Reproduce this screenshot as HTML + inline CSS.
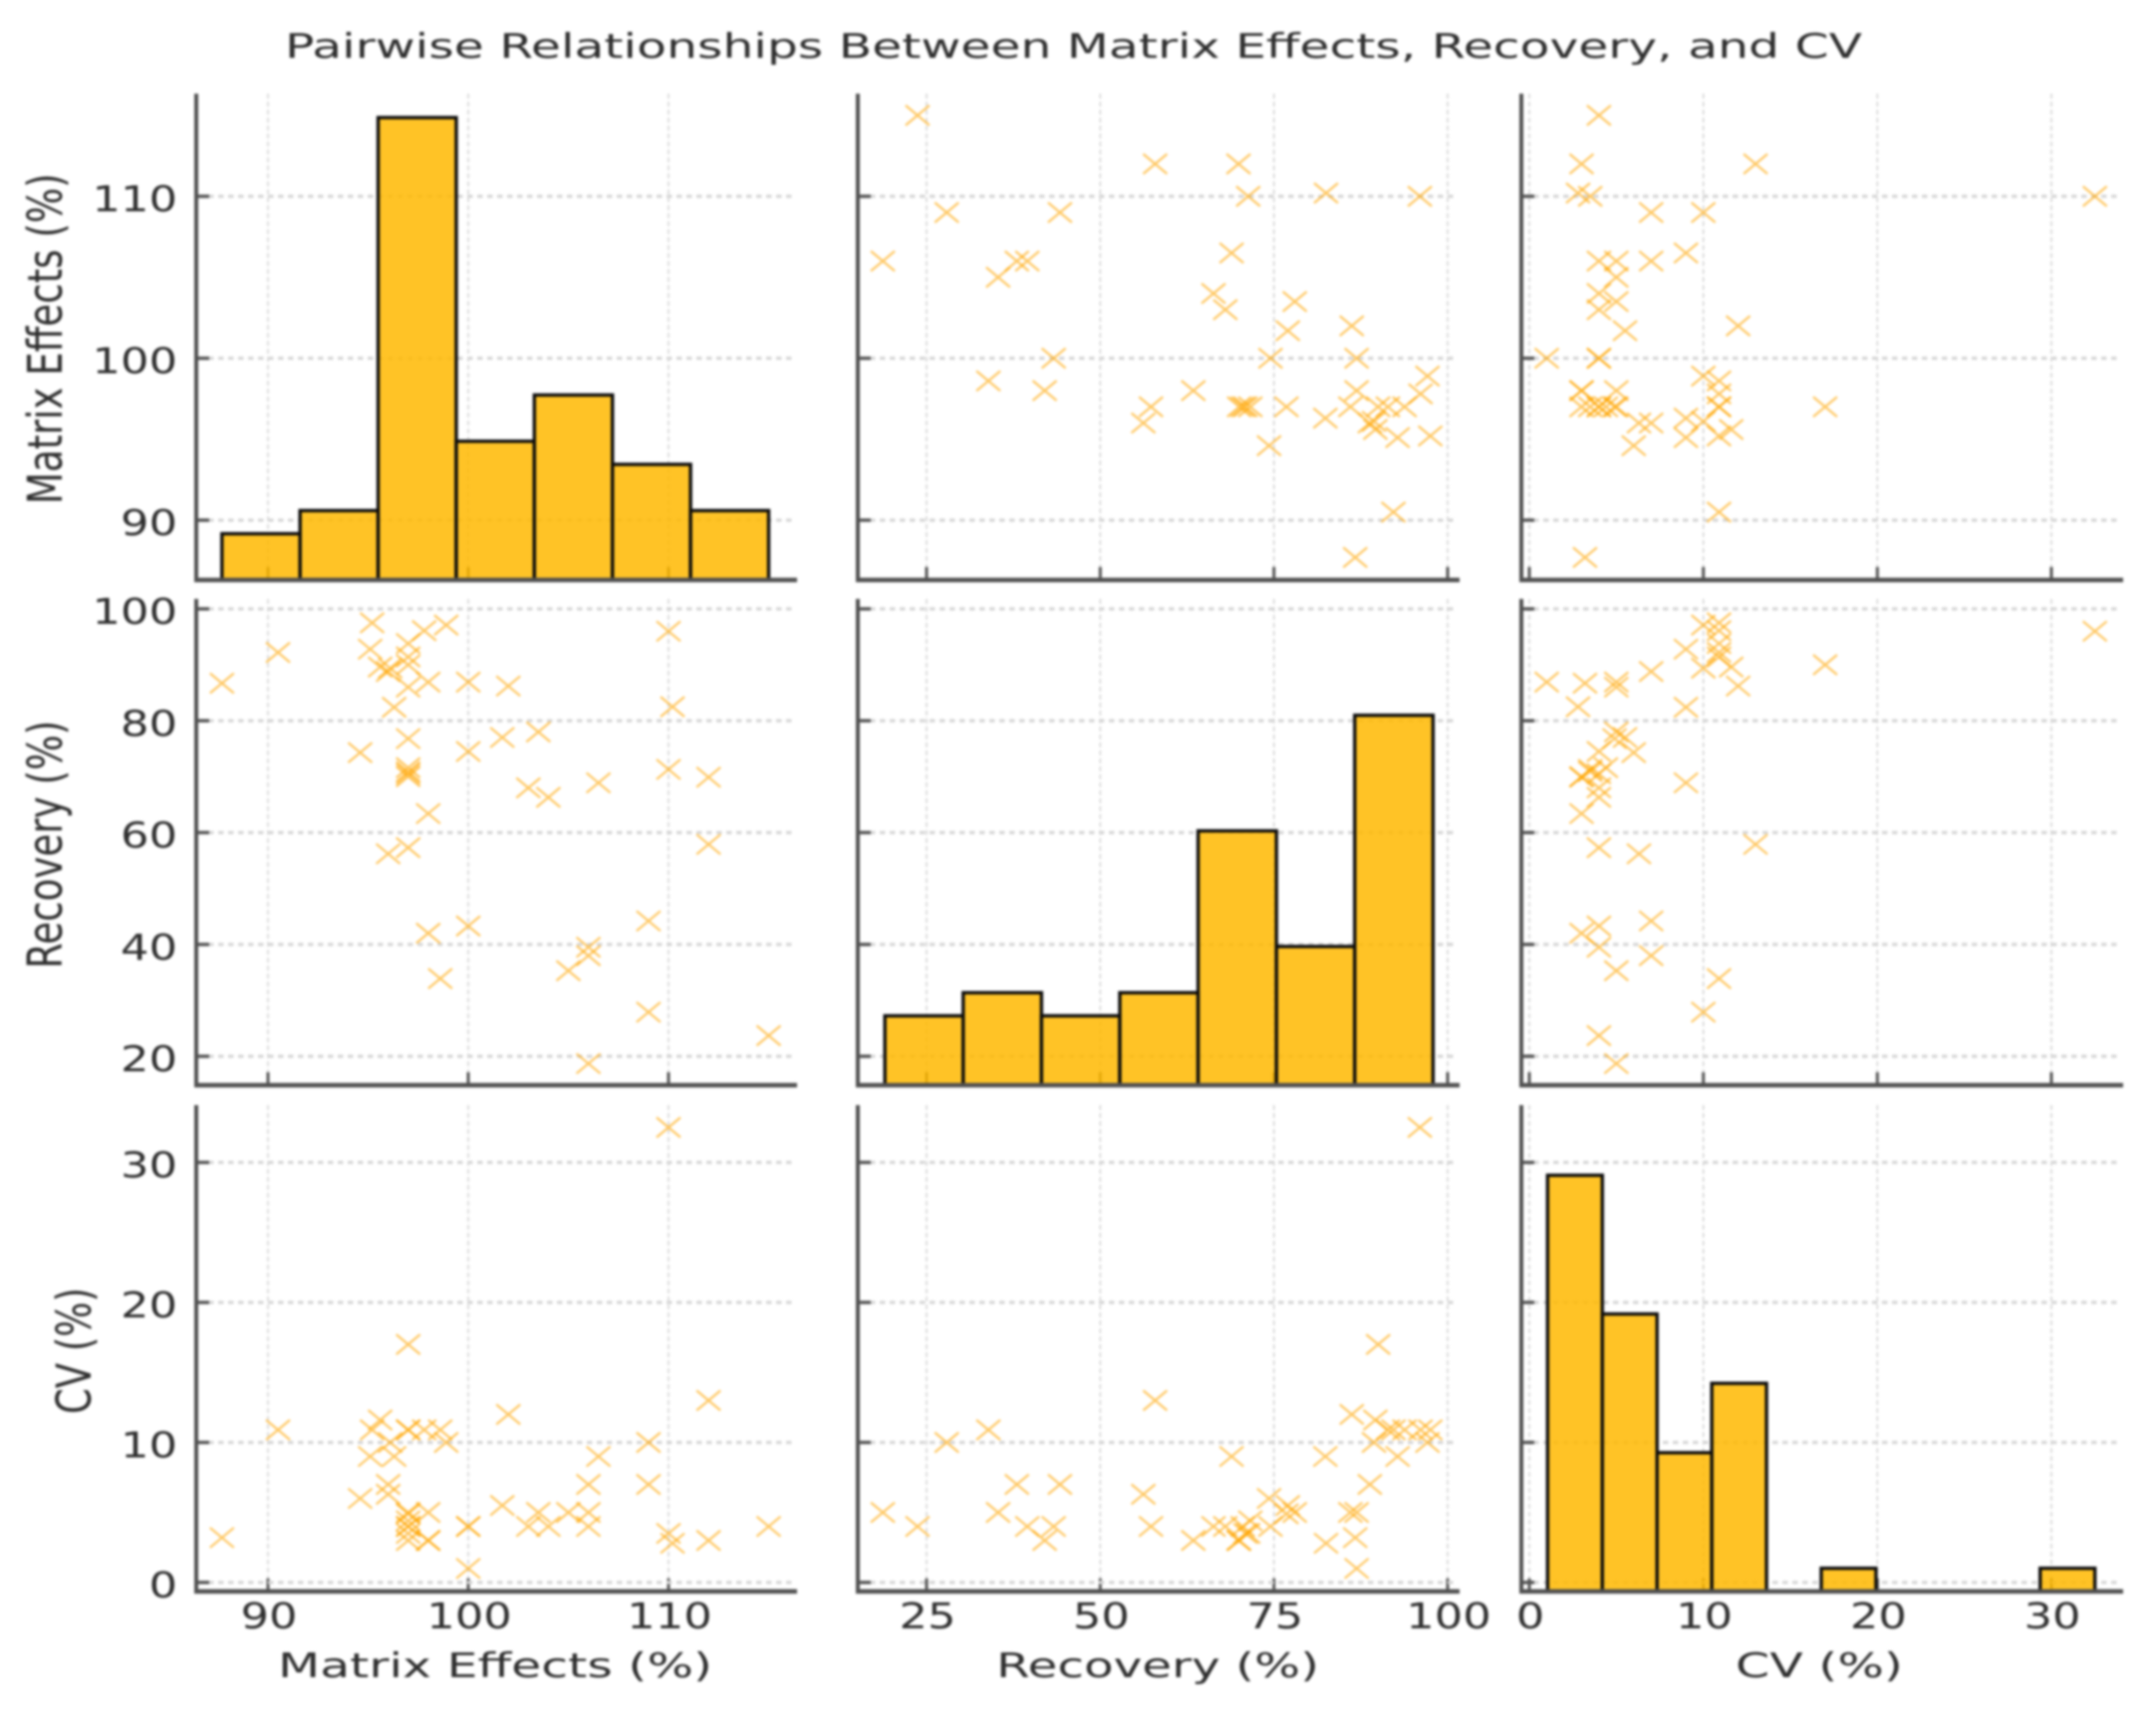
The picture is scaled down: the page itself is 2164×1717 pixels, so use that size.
<!DOCTYPE html>
<html lang="en">
<head>
<meta charset="utf-8">
<title>Pairwise Relationships Between Matrix Effects, Recovery, and CV</title>
<style>
html,body{margin:0;padding:0;background:#fff;width:2164px;height:1717px;overflow:hidden}
svg{display:block;filter:blur(1.3px)}
text{font-family:"DejaVu Sans","Liberation Sans",sans-serif;fill:#2e2e2e}
</style>
</head>
<body>
<svg id="chart" xmlns="http://www.w3.org/2000/svg" width="2164" height="1717" viewBox="0 0 2164 1717">
<rect x="0" y="0" width="2164" height="1717" fill="#ffffff"/>
<text x="286" y="58" font-size="34" textLength="1583" lengthAdjust="spacingAndGlyphs" fill="#3c3c3c">Pairwise Relationships Between Matrix Effects, Recovery, and CV</text>
</svg>
<script>
// Sample values, same index = same sample
const matrixEffects = [87.7,90.5,94.6,95.1,95.2,95.6,96,96.1,96,96.3,97,97,97,97,97,97,97,97,97,97,97.8,98,98,98,98.6,98.9,100,100,100,101.7,102,103,103.5,104,105,106,106,106,106.5,109,109,110,110.2,110,112,112,115];
const recovery = [86.7,92.2,74.3,92.8,97.5,89.6,88.8,89.4,56.2,82.4,93.8,91.4,90,86,76.8,71.6,70.9,70.5,70,57.3,96.1,86.9,63.4,42,33.9,97.1,86.9,74.5,43.3,77,86.2,68,78,66.3,35.3,39.5,38,18.7,68.9,44.2,27.9,96,82.5,71.3,69.9,57.9,23.7];
const cv = [3.2,10.9,6,9,10.9,11.6,7,10,6.3,9,10.9,10.9,17,5,4.9,4.4,3.5,4,3,4,10.9,5,3,3,10.9,10,1,4,4,5.5,12,4,5,4,5,4,7,5,9,7,10,32.5,2.8,3.5,3,13,4];

// Histogram counts and bin ranges
const matrixHistCounts = [2,3,20,6,8,5,3];
const matrixHistRange = [87.7,115];
const recoveryHistCounts = [3,4,3,4,11,6,16];
const recoveryHistRange = [19,97.9];
const cvHistCounts = [18,12,6,9,0,1,0,0,0,1];
const cvHistRange = [1.05,32.5];

// Tick labels
const matrixXTicks = [90,100,110];
const recoveryXTicks = [25,50,75,100];
const cvXTicks = [0,10,20,30];
const matrixYTicks = [90,100,110];
const recoveryYTicks = [20,40,60,80,100];
const cvYTicks = [0,10,20,30];

const svg = document.getElementById('chart');
const NS = 'http://www.w3.org/2000/svg';

function make(tag, attrs, parent){
  const e = document.createElementNS(NS, tag);
  for (const k in attrs) e.setAttribute(k, attrs[k]);
  (parent || svg).appendChild(e);
  return e;
}
function linear(d0, d1, r0, r1){
  return v => r0 + (v - d0) * (r1 - r0) / (d1 - d0);
}

const colsGeom = [{l:197,r:800},{l:861,r:1465},{l:1527,r:2131}];
const rowsGeom = [{t:94,b:582},{t:601,b:1089},{t:1109,b:1597}];

const variables = [
  {key:'matrix-effects', label:'Matrix Effects (%)', values:matrixEffects, xTicks:matrixXTicks, yTicks:matrixYTicks,
   sx:linear(90,110,269,671), sy:linear(90,110,522,197), counts:matrixHistCounts, range:matrixHistRange,
   xLabelX:279, xLabelLen:436, yLabelBase:62, yLabelStart:506, yLabelLen:332},
  {key:'recovery', label:'Recovery (%)', values:recovery, xTicks:recoveryXTicks, yTicks:recoveryYTicks,
   sx:linear(25,100,930,1453), sy:linear(20,100,1060,611), counts:recoveryHistCounts, range:recoveryHistRange,
   xLabelX:1000, xLabelLen:324, yLabelBase:62, yLabelStart:972, yLabelLen:249},
  {key:'cv', label:'CV (%)', values:cv, xTicks:cvXTicks, yTicks:cvYTicks,
   sx:linear(0,30,1535,2059), sy:linear(0,30,1588,1166.5), counts:cvHistCounts, range:cvHistRange,
   xLabelX:1742, xLabelLen:168, yLabelBase:91, yLabelStart:1419, yLabelLen:127}
];

const countHeight = linear(0,20,0,464);
const digitWidth = 28.5;

variables.forEach((rowVar, ri) => {
  variables.forEach((colVar, ci) => {
    const box = {l:colsGeom[ci].l, r:colsGeom[ci].r, t:rowsGeom[ri].t, b:rowsGeom[ri].b};
    const g = make('g', {});
    
    

    // vertical grid and x ticks
    colVar.xTicks.forEach(t => {
      const x = colVar.sx(t);
      const gl = make('line', {x1:x, x2:x, y1:box.t, y2:box.b, stroke:'#d4d4d4', 'stroke-width':1.6, 'stroke-dasharray':'5 3'}, g);
      
      
      const tk = make('line', {x1:x, x2:x, y1:box.b - 13, y2:box.b, stroke:'#555', 'stroke-width':3}, g);
      
      
    });

    // horizontal grid and y ticks
    rowVar.yTicks.forEach(t => {
      const y = rowVar.sy(t);
      const gl = make('line', {x1:box.l + 12, x2:box.r - 3, y1:y, y2:y, stroke:'#d6d6d6', 'stroke-width':3.2, 'stroke-dasharray':'5.5 4.5'}, g);
      
      
      const tk = make('line', {x1:box.l, x2:box.l + 13, y1:y, y2:y, stroke:'#555', 'stroke-width':3.4}, g);
      
      
    });

    if (ri === ci) {
      // diagonal histogram
      const n = colVar.counts.length;
      const w = (colVar.range[1] - colVar.range[0]) / n;
      colVar.counts.forEach((c, i) => {
        if (c === 0) return;
        const x0 = colVar.sx(colVar.range[0] + i * w);
        const x1 = colVar.sx(colVar.range[0] + (i + 1) * w);
        const h = countHeight(c);
        const bar = make('rect', {x:x0, y:box.b - h, width:x1 - x0, height:h, fill:'#ffb800', 'fill-opacity':0.85, stroke:'#0c0c0c', 'stroke-width':3.4}, g);
        
        
      });
    } else {
      // off-diagonal scatter
      colVar.values.forEach((v, i) => {
        const x = colVar.sx(v);
        const y = rowVar.sy(rowVar.values[i]);
        const m = make('path', {d:'M' + (x-12) + ' ' + (y-10) + 'L' + (x+12) + ' ' + (y+10) + 'M' + (x-12) + ' ' + (y+10) + 'L' + (x+12) + ' ' + (y-10),
          stroke:'#ffa500', 'stroke-width':2.2, 'stroke-opacity':0.62, fill:'none'}, g);
        
        
      });
    }

    // spines
    const sl = make('line', {x1:box.l, x2:box.l, y1:box.t, y2:box.b + 2, stroke:'#505050', 'stroke-width':4}, g);
    
    
    const sb = make('line', {x1:box.l - 2, x2:box.r, y1:box.b, y2:box.b, stroke:'#505050', 'stroke-width':4.4}, g);
    
    

    // y tick labels and title on first column
    if (ci === 0) {
      rowVar.yTicks.forEach(t => {
        const s = String(t);
        const tl = make('text', {x:178, y:rowVar.sy(t) + 15, 'font-size':36, 'text-anchor':'end', textLength:s.length * digitWidth, lengthAdjust:'spacingAndGlyphs'}, g);
        tl.textContent = s;
        
        
      });
      const yl = make('text', {transform:'translate(' + rowVar.yLabelBase + ' ' + rowVar.yLabelStart + ') rotate(-90)', 'font-size':48, textLength:rowVar.yLabelLen, lengthAdjust:'spacingAndGlyphs', fill:'#3c3c3c'}, g);
      yl.textContent = rowVar.label;
      
      
    }

    // x tick labels and title on last row
    if (ri === 2) {
      colVar.xTicks.forEach(t => {
        const s = String(t);
        const tl = make('text', {x:colVar.sx(t) + 1, y:1634, 'font-size':36, 'text-anchor':'middle', textLength:s.length * digitWidth, lengthAdjust:'spacingAndGlyphs'}, g);
        tl.textContent = s;
        
        
      });
      const xl = make('text', {x:colVar.xLabelX, y:1683, 'font-size':34, textLength:colVar.xLabelLen, lengthAdjust:'spacingAndGlyphs', fill:'#3c3c3c'}, g);
      xl.textContent = colVar.label;
      
      
    }
  });
});
</script>
</body>
</html>
